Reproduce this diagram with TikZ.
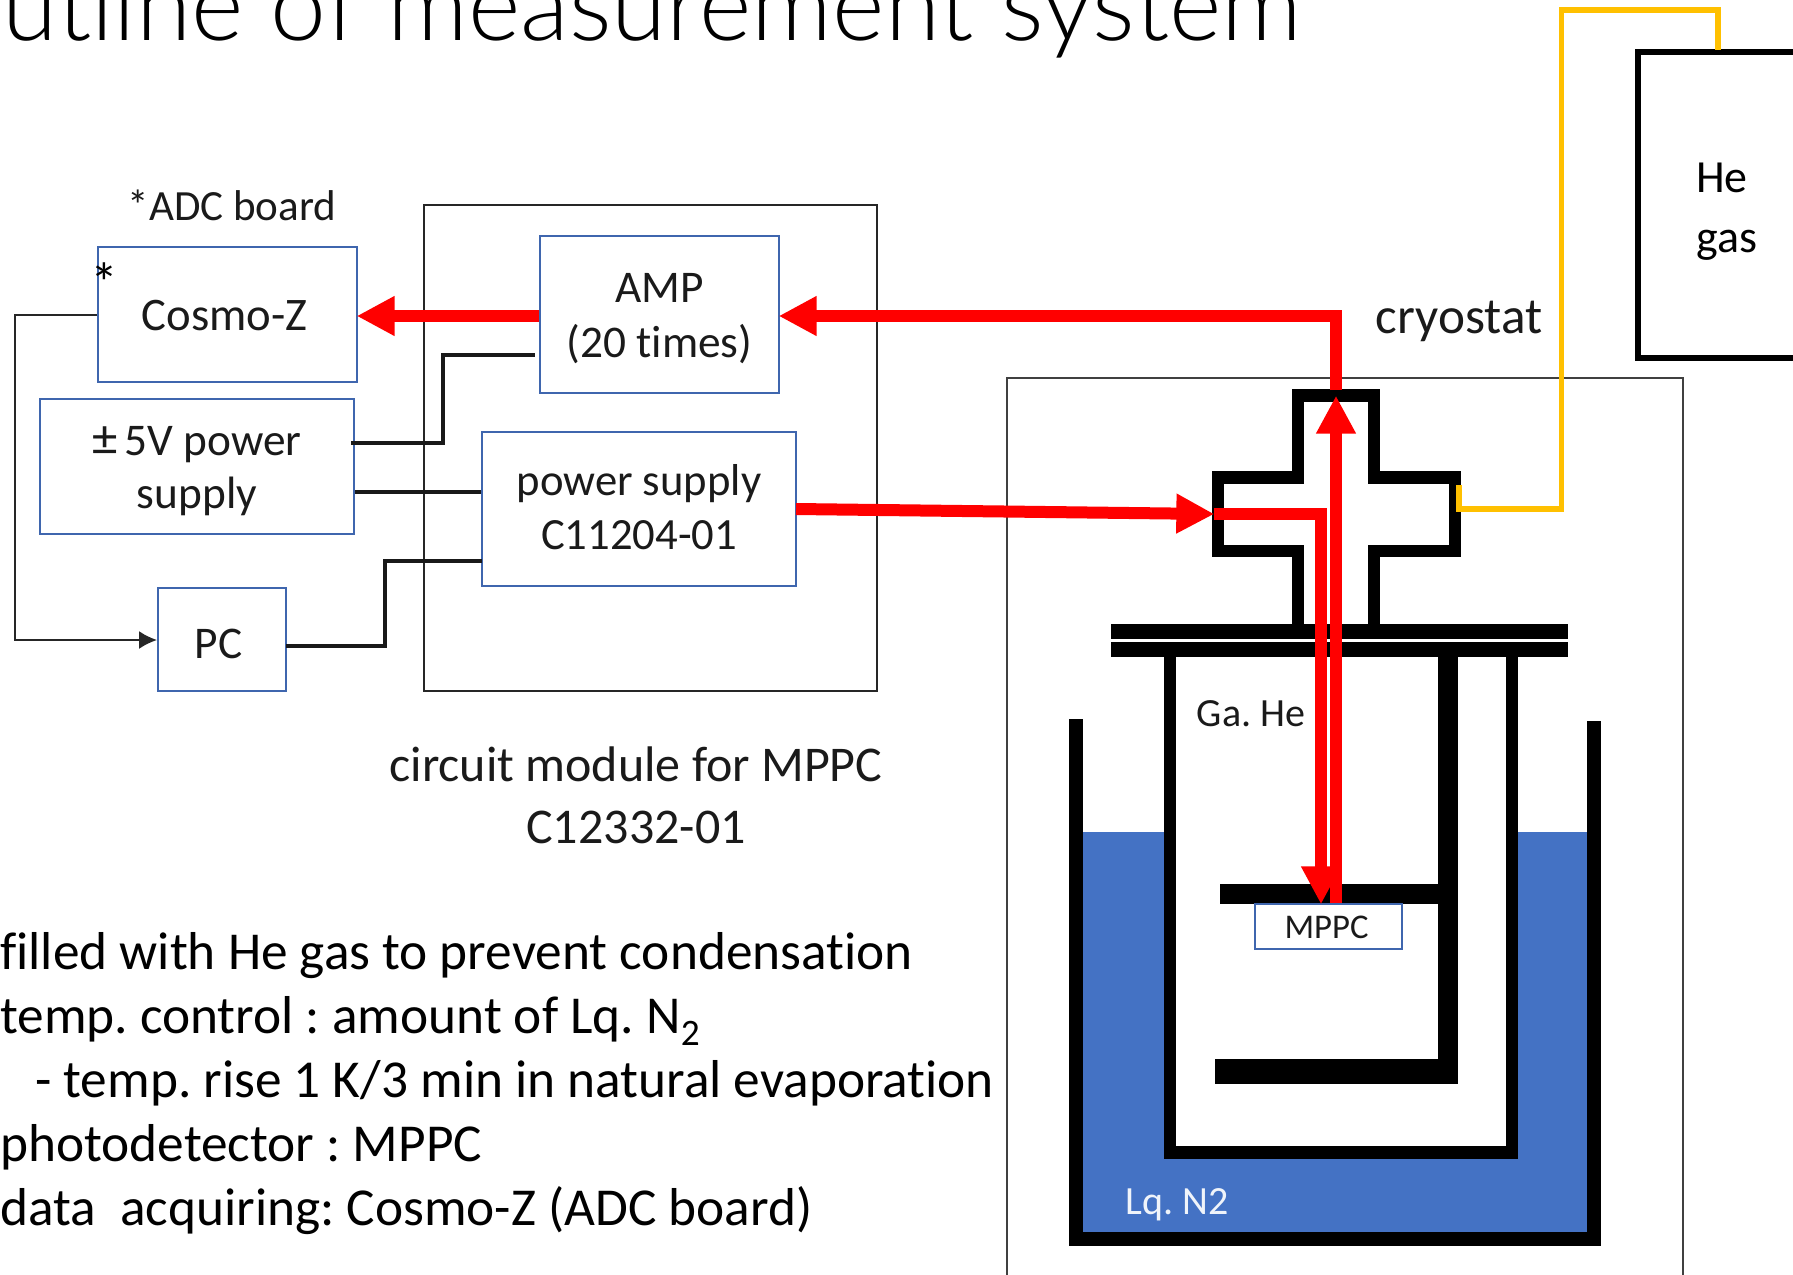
\documentclass[tikz,border=0pt]{standalone}
\usepackage{fontspec}
\setmainfont[Ligatures=NoCommon]{Carlito}
\newfontfamily\titlefont{Lato Light}
\usetikzlibrary{arrows.meta,calc}
\definecolor{boxblue}{HTML}{4472C4}
\definecolor{boxline}{HTML}{3F66AE}
\definecolor{hegold}{HTML}{FFC000}
\definecolor{txt}{HTML}{1A1A1A}
\frenchspacing
\newcommand{\fpx}[2]{\fontsize{#1}{#2}\selectfont}
\newcommand{\cellat}[3]{\raisebox{\dimexpr-.25em+#2\relax}[0pt][0pt]{\makebox[0pt]{\kern\dimexpr2\dimexpr#1\relax\relax\begin{tabular}{@{}c@{}}#3\end{tabular}}}}
\tikzset{
  px/.style={x=0.75pt,y=-0.75pt},
  bluebox/.style={draw=boxline,line width=1.5pt,fill=white,inner sep=0pt,text=txt},
  thinbox/.style={draw=black!85,line width=1.5pt},
  label/.style={inner sep=0pt,text=txt},
  para/.style={inner sep=0pt,anchor=base west,text=black,font=\fpx{40}{46}},
  redarrow/.style={draw=red,line width=9pt,shorten >=-1pt,-{Triangle[length=28.5pt,width=28pt]}},
  redline/.style={draw=red,line width=9pt},
  wire/.style={draw=black!90,line width=2.8pt},
  heavy/.style={draw=black,line width=9.4pt,miter limit=10},
  gasline/.style={draw=hegold,line width=4.1pt},
  solid fill/.style={fill=black,draw=none},
}
\begin{document}
\begin{tikzpicture}[px]
\useasboundingbox (0,0) rectangle (1793,1275);
\clip (0,0) rectangle (1793,1275);
\fill[white] (0,0) rectangle (1793,1275);

% title
\node[inner sep=0pt,anchor=base west,text=black,font=\titlefont\fpx{75.2}{90}] (title) at (2,40) {utline of measurement system};

% circuit module outer box
\node[thinbox,minimum width=453*0.75pt,minimum height=486*0.75pt,inner sep=0pt] (module) at (650.5,448) {};

% cryostat enclosure
\draw[draw=black!75,line width=1.5pt] (1007,1290) -- (1007,377.5) -- (1683,377.5) -- (1683,1290);

% liquid nitrogen and vessels
\fill[boxblue] (1083,832) rectangle (1587,1232);
\fill[white] (1170,650) rectangle (1512,1152);
\draw[heavy,line width=11pt] (1076,719) -- (1076,1239) -- (1594,1239) -- (1594,721);
\draw[heavy] (1170,650) -- (1170,1152.5) -- (1512,1152.5) -- (1512,650);
\fill[solid fill] (1438,650) rectangle (1458,1084);
\fill[solid fill] (1214.5,1059) rectangle (1458,1084);
\fill[solid fill] (1219.5,884) rectangle (1458,904);

% flange
\fill[solid fill] (1111,623.5) rectangle (1567.5,639);
\fill[solid fill] (1111,641.5) rectangle (1567.5,656.5);

% cross
\draw[heavy] (1298,624) -- (1298,551) -- (1218,551) -- (1218,477.5) -- (1298,477.5) -- (1298,395.5) -- (1374,395.5) -- (1374,477.5) -- (1455,477.5) -- (1455,551) -- (1374,551) -- (1374,624);

% blocks
\node[bluebox,minimum width=259*0.75pt,minimum height=135*0.75pt,font=\fpx{35}{41}] (cosmo) at (227.5,314.5) {\cellat{-2pt}{-1.6pt}{Cosmo-Z}};
\node[bluebox,minimum width=239*0.75pt,minimum height=157*0.75pt,font=\fpx{34}{41}] (amp) at (659.5,314.5) {\cellat{0pt}{-1.2pt}{AMP\\(20 times)}};
\node[bluebox,minimum width=314*0.75pt,minimum height=135*0.75pt,font=\fpx{34}{40}] (five) at (197,466.5) {\cellat{0pt}{-1.2pt}{{\fpx{38}{40}±}\kern5pt 5V power\\supply}};
\node[bluebox,minimum width=314*0.75pt,minimum height=154*0.75pt,font=\fpx{33.5}{40}] (psu) at (639,509) {\cellat{0pt}{0pt}{power supply\\C11204-01}};
\node[bluebox,minimum width=128*0.75pt,minimum height=103*0.75pt,font=\fpx{34}{41}] (pc) at (222,639.5) {\cellat{-2.5pt}{-3.4pt}{PC}};
\node[bluebox,minimum width=146.5*0.75pt,minimum height=45.5*0.75pt,font=\fpx{26}{30}] (mppc) at (1328.5,926.5) {\cellat{-1.5pt}{-2.5pt}{MPPC}};

% he gas bottle
\node[draw=black,line width=4.5pt,minimum width=212*0.75pt,minimum height=306*0.75pt,inner sep=0pt] (bottle) at (1744,205) {};

% named ends
\coordinate (mppcup) at (1336,903);
\coordinate (crosstop) at (1336,397);
\coordinate (crossleft) at (1213,514);
\coordinate (mppctip) at (1321,903);
\coordinate (psuout) at (796,509);
\coordinate (ampin) at (535,355);
\coordinate (fiveup) at (351,443);
\coordinate (psutop) at (482,561);
\coordinate (pcout) at (286,646);
\coordinate (cross gas) at (1459,485);
\coordinate (bottle gas) at (1718,50);

% black wires
\draw[draw=black!85,line width=1.5pt,-{Latex[length=13.5pt,width=13.5pt]}] (cosmo.west) -| (15,640) -- (pc.west |- 0,640);
\draw[wire] (fiveup) -| (443,355) -- (ampin);
\draw[wire] (five.east |- 0,492) -- (psu.west |- 0,492);
\draw[wire] (pcout) -| (385,561) -- (psutop);

% helium line
\draw[gasline] (cross gas) |- (1561.5,509) |- (1718,10) -- (bottle gas);

% red signals
\draw[redarrow] (amp.west |- 0,316) -- (cosmo.east |- 0,316);
\draw[redline] (1336,390) -- (1336,316);
\draw[redarrow] (1342,316) -- (amp.east |- 0,316);
\draw[redarrow] (mppcup) -- (crosstop);
\draw[redarrow] (psuout) -- (crossleft);
\draw[redarrow] (1214,514) -| (mppctip);

% labels
\node[label,font=\fpx{32.3}{36}] (adc) at (232,205) {*ADC board};
\node[label,text=black,font=\fpx{42}{46}] (star) at (104.5,282.5) {*};
\node[label,font=\fpx{38.4}{47}] (crylabel) at (1459,321.5) {cryostat};
\node[label,font=\fpx{30}{36}] (galabel) at (1251,714) {Ga. He};
\node[label,text=white!92!boxblue,font=\fpx{30}{36}] (lqlabel) at (1177.5,1204.5) {Lq. N2};
\node[label,text=black,align=left,anchor=west,font=\fpx{34.5}{45}] (helabel) at (1696,212) {He\\gas};
\node[label,align=center,font=\fpx{37.5}{46.5}] (modlabel) at (636,795) {circuit module for MPPC\\C12332-01};

% notes
\node[para] (n1) at (0,969) {filled with He gas to prevent condensation};
\node[para] (n2) at (0,1033) {temp. control : amount of Lq. N\textsubscript{2}};
\node[para] (n3) at (35,1097) {- temp. rise 1 K/3 min in natural evaporation};
\node[para] (n4) at (0,1161) {photodetector : MPPC};
\node[para] (n5) at (0,1225) {data\ \ acquiring: Cosmo-Z (ADC board)};
\end{tikzpicture}
\end{document}
